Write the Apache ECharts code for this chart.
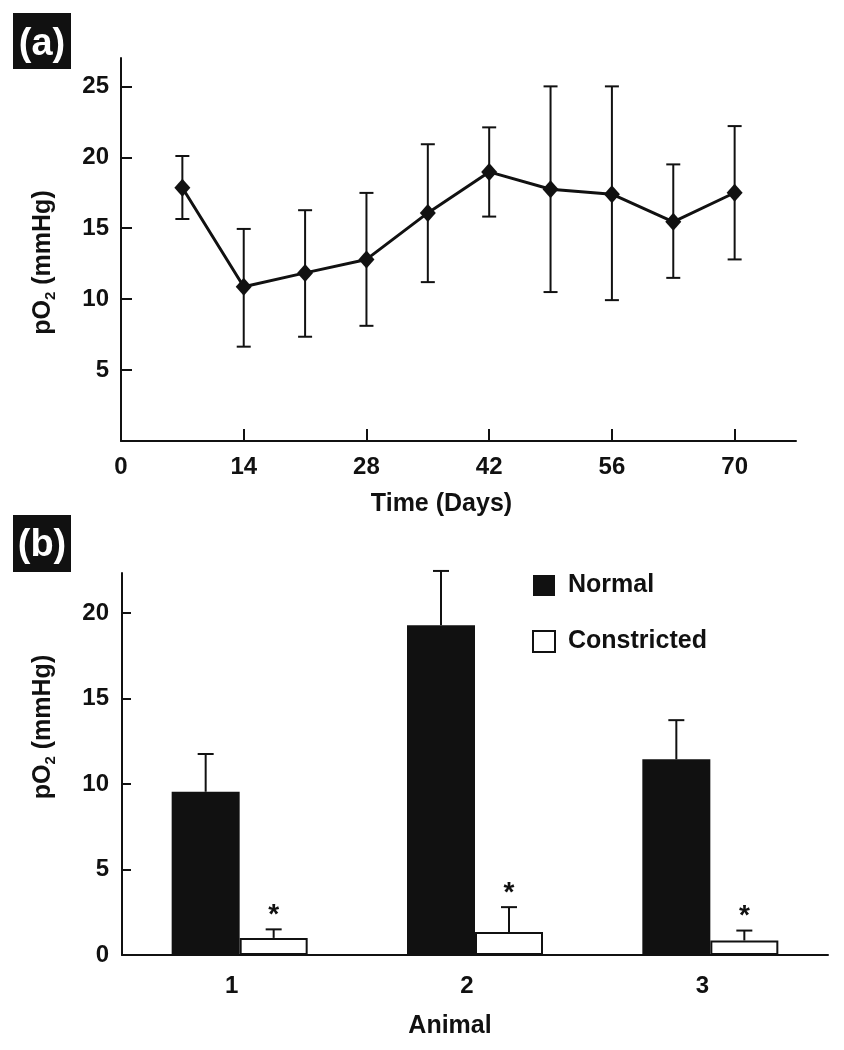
<!DOCTYPE html>
<html><head><meta charset="utf-8">
<script src="https://cdn.jsdelivr.net/npm/echarts@6/dist/echarts.min.js"></script>
<style>html,body{margin:0;padding:0;background:#fff}#c{width:844px;height:1050px}</style>
</head><body><div id="c"></div>
<script>
// Panel (a): pO2 over time
const days = [7, 14, 21, 28, 35, 42, 49, 56, 63, 70];
const po2Mean = [17.85, 10.87, 11.85, 12.8, 16.08, 18.97, 17.75, 17.4, 15.45, 17.5];
const po2Low = [15.65, 6.65, 7.35, 8.12, 11.2, 15.82, 10.5, 9.93, 11.5, 12.8];
const po2High = [20.09, 14.95, 16.27, 17.49, 20.92, 22.11, 25.0, 25.0, 19.5, 22.2];
const xTicksA = [0, 14, 28, 42, 56, 70];
const yTicksA = [5, 10, 15, 20, 25];
// Panel (b): per animal
const animals = ['1', '2', '3'];
const normalMean = [9.55, 19.3, 11.45];
const normalErrTop = [11.76, 22.47, 13.74];
const constrictedMean = [1.0, 1.34, 0.85];
const constrictedErrTop = [1.5, 2.8, 1.43];
const yTicksB = [0, 5, 10, 15, 20];

const INK = '#111';
const FF = '"Liberation Sans", Arial, Helvetica, sans-serif';
const lbl = {fontSize: 24, fontWeight: 'bold', color: INK, fontFamily: FF};
const nameStyle = {fontSize: 25, fontWeight: 'bold', color: INK, fontFamily: FF, lineHeight: 30};
const yNameRich = {
  a: {fontSize: 25, fontWeight: 'bold', color: INK, fontFamily: FF, lineHeight: 30},
  s: {fontSize: 15, fontWeight: 'bold', color: INK, fontFamily: FF, lineHeight: 15, verticalAlign: 'bottom'}
};
const axLine = {show: true, lineStyle: {color: INK, width: 2}};

const chart = echarts.init(document.getElementById('c'), null, {renderer: 'canvas'});
const option = {
  backgroundColor: '#fff',
  animation: false,
  grid: [
    {left: 121, top: 58, width: 675, height: 383},
    {left: 122, top: 573, width: 706, height: 382}
  ],
  xAxis: [
    {
      type: 'value', gridIndex: 0, min: 0, max: 77,
      axisLine: axLine,
      axisTick: {show: true, inside: true, length: 12, lineStyle: {color: INK, width: 2}, customValues: xTicksA.slice(1)},
      axisLabel: Object.assign({customValues: xTicksA, margin: 14}, lbl),
      splitLine: {show: false},
      name: 'Time (Days)', nameLocation: 'middle', nameGap: 48,
      nameTextStyle: Object.assign({padding: [0, 34, 0, 0]}, nameStyle)
    },
    {
      type: 'category', gridIndex: 1, data: animals,
      axisLine: axLine,
      axisTick: {show: false},
      axisLabel: Object.assign({margin: 19, padding: [0, 16, 0, 0]}, lbl),
      name: 'Animal', nameLocation: 'middle', nameGap: 56,
      nameTextStyle: Object.assign({padding: [0, 50, 0, 0]}, nameStyle)
    }
  ],
  yAxis: [
    {
      type: 'value', gridIndex: 0, min: 0, max: 27,
      axisLine: axLine,
      axisTick: {show: true, inside: true, length: 11, lineStyle: {color: INK, width: 2}, customValues: yTicksA},
      axisLabel: Object.assign({customValues: yTicksA, margin: 12}, lbl),
      splitLine: {show: false},
      name: '{a|pO}{s|2}{a| (mmHg)}', nameLocation: 'middle', nameGap: 63,
      nameTextStyle: {padding: [0, 26, 0, 0], rich: yNameRich}
    },
    {
      type: 'value', gridIndex: 1, min: 0, max: 22.35,
      axisLine: axLine,
      axisTick: {show: true, inside: true, length: 9, lineStyle: {color: INK, width: 2}, customValues: yTicksB.slice(1)},
      axisLabel: Object.assign({customValues: yTicksB, margin: 13}, lbl),
      splitLine: {show: false},
      name: '{a|pO}{s|2}{a| (mmHg)}', nameLocation: 'middle', nameGap: 64,
      nameTextStyle: {padding: [0, 0, 0, 74], rich: yNameRich}
    }
  ],
  legend: {
    data: ['Normal', 'Constricted'],
    orient: 'vertical', left: 532, top: 573, padding: 0,
    itemWidth: 22, itemHeight: 21, itemGap: 31, icon: 'rect',
    textStyle: {fontSize: 25, fontWeight: 'bold', color: INK, fontFamily: FF, padding: [0, 0, 0, 8]}
  },
  graphic: [
    {type: 'rect', shape: {x: 13, y: 13, width: 58, height: 56}, style: {fill: INK}},
    {type: 'text', x: 42, y: 45, style: {text: '(a)', fill: '#fff', fontSize: 38, fontWeight: 'bold', fontFamily: FF, align: 'center', verticalAlign: 'middle'}},
    {type: 'rect', shape: {x: 13, y: 515, width: 58, height: 57}, style: {fill: INK}},
    {type: 'text', x: 42, y: 546, style: {text: '(b)', fill: '#fff', fontSize: 38, fontWeight: 'bold', fontFamily: FF, align: 'center', verticalAlign: 'middle'}}
  ],
  series: [
    {
      type: 'custom', xAxisIndex: 0, yAxisIndex: 0, z: 2, clip: false,
      data: days.map((d, i) => [d, po2Low[i], po2High[i]]),
      encode: {x: 0, y: [1, 2]},
      renderItem: function (params, api) {
        const x = api.value(0);
        const lo = api.coord([x, api.value(1)]);
        const hi = api.coord([x, api.value(2)]);
        const hw = 7, st = {stroke: INK, lineWidth: 2};
        return {type: 'group', children: [
          {type: 'line', shape: {x1: lo[0], y1: lo[1], x2: hi[0], y2: hi[1]}, style: st},
          {type: 'line', shape: {x1: lo[0] - hw, y1: lo[1], x2: lo[0] + hw, y2: lo[1]}, style: st},
          {type: 'line', shape: {x1: hi[0] - hw, y1: hi[1], x2: hi[0] + hw, y2: hi[1]}, style: st}
        ]};
      }
    },
    {
      type: 'line', xAxisIndex: 0, yAxisIndex: 0, z: 3,
      data: days.map((d, i) => [d, po2Mean[i]]),
      symbol: 'diamond', symbolSize: [16, 18],
      lineStyle: {color: INK, width: 3},
      itemStyle: {color: INK}
    },
    {
      type: 'bar', name: 'Normal', xAxisIndex: 1, yAxisIndex: 1,
      data: normalMean, barWidth: 68, barGap: '0%',
      itemStyle: {color: INK}
    },
    {
      type: 'bar', name: 'Constricted', xAxisIndex: 1, yAxisIndex: 1,
      data: constrictedMean, barWidth: 68, barGap: '0%',
      itemStyle: {color: '#fff', borderColor: INK, borderWidth: 2}
    },
    {
      type: 'custom', xAxisIndex: 1, yAxisIndex: 1, z: 4, clip: false,
      data: animals.map((a, i) => [i, normalMean[i], normalErrTop[i], constrictedMean[i], constrictedErrTop[i]]),
      renderItem: function (params, api) {
        const idx = api.value(0);
        const off = 34, hw = 8, st = {stroke: INK, lineWidth: 2};
        const n0 = api.coord([idx, api.value(1)]);
        const n1 = api.coord([idx, api.value(2)]);
        const c0 = api.coord([idx, api.value(3)]);
        const c1 = api.coord([idx, api.value(4)]);
        const nx = n0[0] - off, cx = c0[0] + off;
        return {type: 'group', children: [
          {type: 'line', shape: {x1: nx, y1: n0[1], x2: nx, y2: n1[1]}, style: st},
          {type: 'line', shape: {x1: nx - hw, y1: n1[1], x2: nx + hw, y2: n1[1]}, style: st},
          {type: 'line', shape: {x1: cx, y1: c0[1], x2: cx, y2: c1[1]}, style: st},
          {type: 'line', shape: {x1: cx - hw, y1: c1[1], x2: cx + hw, y2: c1[1]}, style: st},
          {type: 'text', x: cx, y: c1[1] - 14, style: {text: '*', fill: INK, fontSize: 28, fontWeight: 'bold', fontFamily: FF, align: 'center', verticalAlign: 'middle'}}
        ]};
      }
    }
  ]
};
chart.setOption(option);
</script>
</body></html>
